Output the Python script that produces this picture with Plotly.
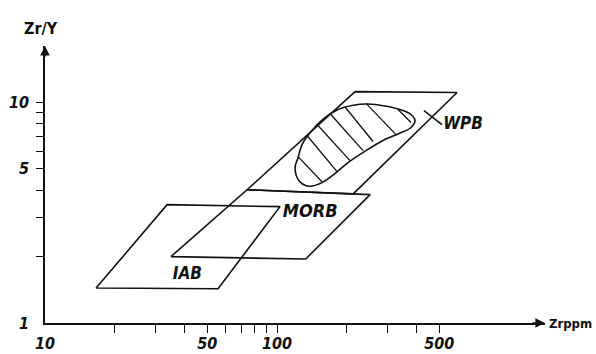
import math
import plotly.graph_objects as go

# ---- data (Zr ppm vs Zr/Y, log-log) ----
iab_zr = [16.6, 33.6, 103, 55.7, 16.6]
iab_zry = [1.44, 3.44, 3.37, 1.43, 1.44]

morb_zr = [34.9, 74.3, 252, 133, 34.9]
morb_zry = [2.0, 4.02, 3.82, 1.95, 2.0]

wpb_zr = [74.3, 217, 597, 213, 74.3]
wpb_zry = [4.02, 11.2, 11.1, 3.85, 4.02]

kidney_zr = [119.6, 123.2, 128.2, 140.2, 159.4, 183.2, 210.5, 246.7, 292.1, 339,
             378.2, 393.4, 378.2, 335.7, 286.4, 241.9, 202.3, 177.8, 156.3, 137.4,
             124.4, 119.6]
kidney_zry = [5.06, 5.62, 6.44, 7.38, 8.46, 9.29, 9.69, 9.84, 9.64, 9.29,
              8.82, 8.28, 7.70, 7.23, 6.72, 6.05, 5.34, 4.76, 4.33, 4.17,
              4.42, 5.06]

hatch_zr_start = [123.2, 134.7, 148.8, 169.2, 196.4, 241.9, 329]
hatch_zry_start = [5.68, 7.08, 7.94, 8.91, 9.54, 9.9, 9.39]
hatch_zr_end = [156.3, 181.4, 206.4, 234.8, 259.3, 325.8, 378.2]
hatch_zry_end = [4.37, 4.86, 5.45, 6.05, 6.65, 7.15, 8.11]

wpb_leader_zr = [430, 514]
wpb_leader_zry = [9.19, 7.94]

field_labels = ["IAB", "MORB", "WPB"]
label_zr = [41.1, 139, 520]
label_zry = [1.65, 3.16, 7.94]

x_tickvals = [10, 50, 100, 500]
x_ticktext = ["10", "50", "100", "500"]
x_minorvals = [20, 30, 40, 50, 60, 70, 80, 90, 100, 200, 300, 400, 500]
y_tickvals = [1, 5, 10]
y_ticktext = ["1", "5", "10"]
y_minorvals = [2, 3, 4, 5, 6, 7, 8, 9, 10]

x_title = "Zrppm"
y_title = "Zr/Y"

FONT = "DejaVu Sans Condensed, Liberation Sans Narrow, DejaVu Sans, Arial"
INK = "#111111"
LW = 1.6

fig = go.Figure()

def outline(xs, ys, shape="linear"):
    fig.add_trace(go.Scatter(x=xs, y=ys, mode="lines",
                             line=dict(color=INK, width=LW, shape=shape),
                             hoverinfo="skip", showlegend=False))

outline(iab_zr, iab_zry)
outline(morb_zr, morb_zry)
outline(wpb_zr, wpb_zry)
outline(kidney_zr, kidney_zry, shape="spline")

hx, hy = [], []
for a, b, c, d in zip(hatch_zr_start, hatch_zry_start, hatch_zr_end, hatch_zry_end):
    hx += [a, c, None]
    hy += [b, d, None]
fig.add_trace(go.Scatter(x=hx, y=hy, mode="lines", line=dict(color=INK, width=1.3),
                         hoverinfo="skip", showlegend=False))
outline(wpb_leader_zr, wpb_leader_zry)

fig.add_trace(go.Scatter(
    x=label_zr, y=label_zry, mode="text", text=field_labels,
    textposition=["middle center", "middle center", "middle right"],
    textfont=dict(family=FONT, size=[17, 18, 17], color=INK, style="italic",
                  weight="bold"),
    hoverinfo="skip", showlegend=False))

tickfont = dict(family=FONT, size=16, color=INK, style="italic", weight="bold")

fig.update_xaxes(
    type="log", range=[1, 3.155], automargin=False,
    showline=True, linecolor=INK, linewidth=1.6,
    showgrid=False, zeroline=False,
    tickmode="array", tickvals=x_tickvals, ticktext=x_ticktext, ticks="",
    ticklabelstandoff=5,
    minor=dict(tickmode="array", tickvals=x_minorvals, ticks="outside",
               ticklen=8, tickwidth=1.2, tickcolor=INK, showgrid=False),
    tickfont=tickfont,
)
fig.update_yaxes(
    type="log", range=[0, 1.256], automargin=False,
    showline=True, linecolor=INK, linewidth=1.6,
    showgrid=False, zeroline=False,
    tickmode="array", tickvals=y_tickvals, ticktext=y_ticktext, ticks="",
    ticklabelstandoff=11,
    minor=dict(tickmode="array", tickvals=y_minorvals, ticks="outside",
               ticklen=7, tickwidth=1.2, tickcolor=INK, showgrid=False),
    tickfont=tickfont,
)

# axis arrows and titles
fig.add_annotation(x=1, y=0, xref="paper", yref="paper", ax=-14, ay=0,
                   showarrow=True, arrowhead=2, arrowsize=1.2, arrowwidth=1.6,
                   arrowcolor=INK, text="")
fig.add_annotation(x=0, y=1, xref="paper", yref="paper", ax=0, ay=12,
                   showarrow=True, arrowhead=2, arrowsize=1.2, arrowwidth=1.6,
                   arrowcolor=INK, text="")
fig.add_annotation(x=1, y=0, xref="paper", yref="paper", xanchor="left",
                   yanchor="middle", xshift=2, showarrow=False, text=x_title,
                   font=dict(family=FONT, size=13, color=INK, weight="bold"))
fig.add_annotation(x=0, y=1, xref="paper", yref="paper", xanchor="center",
                   yanchor="bottom", xshift=-4, yshift=6, showarrow=False, text=y_title,
                   font=dict(family=FONT, size=16, color=INK, weight="bold"))

fig.update_layout(
    width=596, height=354,
    margin=dict(l=45, r=51, t=46, b=31),
    paper_bgcolor="white", plot_bgcolor="white",
    font=dict(family=FONT, color=INK),
)

fig.write_html("out.html")
